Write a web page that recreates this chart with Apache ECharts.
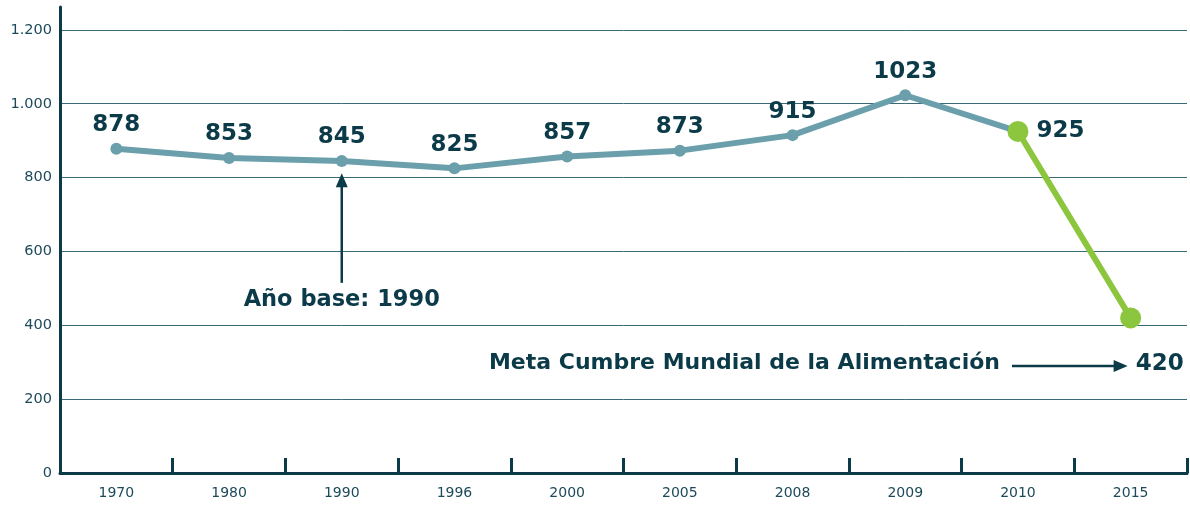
<!DOCTYPE html>
<html>
<head>
<meta charset="utf-8">
<script src="https://cdn.jsdelivr.net/npm/echarts@6/dist/echarts.min.js"></script>
<style>
  html, body { margin: 0; padding: 0; background: #fff; }
  #chart { width: 1190px; height: 505px; }
</style>
</head>
<body>
<div id="chart"></div>
<script>
const years = ["1970", "1980", "1990", "1996", "2000", "2005", "2008", "2009", "2010", "2015"];
const hambre = [878, 853, 845, 825, 857, 873, 915, 1023, 925, null];
const meta = [null, null, null, null, null, null, null, null, 925, 420];

const oscuro = "#0b3a48";
const azul = "#6a9fab";
const verde = "#8cc63f";
const fuente = "'DejaVu Sans', sans-serif";

const chart = echarts.init(document.getElementById("chart"));

chart.setOption({
  animation: false,
  grid: { left: 60, right: 3, top: 7, bottom: 32 },
  xAxis: {
    type: "category",
    data: years,
    boundaryGap: true,
    axisLine: { lineStyle: { color: oscuro, width: 3 } },
    axisTick: { show: true, interval: 0, inside: true, length: 15, lineStyle: { color: oscuro, width: 3 } },
    axisLabel: { color: "#1d4a5a", fontSize: 14, fontFamily: fuente, margin: 13 }
  },
  yAxis: {
    type: "value",
    min: 0,
    max: 1262,
    interval: 200,
    axisLine: { show: true, lineStyle: { color: oscuro, width: 3 } },
    axisTick: { show: false },
    axisLabel: {
      color: "#1d4a5a",
      fontSize: 14.5,
      fontFamily: fuente,
      margin: 8,
      showMaxLabel: false,
      formatter: v => v >= 1000 ? String(v).replace(/(\d)(\d{3})$/, "$1.$2") : String(v)
    },
    splitLine: { show: true, showMaxLine: false, lineStyle: { color: "#3a6a77", width: 1 } }
  },
  series: [
    {
      type: "line",
      data: hambre,
      lineStyle: { color: azul, width: 6 },
      itemStyle: { color: azul },
      symbol: "circle",
      symbolSize: 12,
      label: {
        show: true,
        position: "top",
        distance: 6,
        color: oscuro,
        fontSize: 23,
        fontWeight: "bold",
        fontFamily: fuente,
        formatter: p => p.dataIndex === 8 ? "" : String(p.value)
      },
      z: 2
    },
    {
      type: "line",
      data: meta,
      lineStyle: { color: verde, width: 6 },
      itemStyle: { color: verde },
      symbol: "circle",
      symbolSize: 21,
      label: {
        show: true,
        position: "right",
        distance: 8,
        color: oscuro,
        fontSize: 23,
        fontWeight: "bold",
        fontFamily: fuente,
        formatter: p => p.dataIndex === 8 ? String(p.value) : ""
      },
      z: 3
    }
  ]
});

// anotaciones colocadas con las escalas del gráfico
function px(x, y) {
  return chart.convertToPixel({ gridIndex: 0 }, [x, y]);
}
const base1 = px("1990", 515);
const base2 = px("1990", 812);
const baseTxt = px("1990", 469);
const metaA = px("2010", 290);
const metaB = px("2015", 290);

chart.setOption({
  graphic: [
    {
      type: "line",
      shape: { x1: base1[0], y1: base1[1], x2: base2[0], y2: base2[1] + 12 },
      style: { stroke: oscuro, lineWidth: 2.5 }
    },
    {
      type: "polygon",
      shape: { points: [[base2[0], base2[1]], [base2[0] - 6, base2[1] + 14], [base2[0] + 6, base2[1] + 14]] },
      style: { fill: oscuro }
    },
    {
      type: "text",
      x: baseTxt[0],
      y: baseTxt[1],
      style: {
        text: "Año base: 1990",
        fill: oscuro,
        font: "bold 22.5px " + fuente,
        align: "center",
        verticalAlign: "middle"
      }
    },
    {
      type: "text",
      x: metaA[0] - 18,
      y: metaA[1] - 3,
      style: {
        text: "Meta Cumbre Mundial de la Alimentación",
        fill: oscuro,
        font: "bold 22px " + fuente,
        align: "right",
        verticalAlign: "middle"
      }
    },
    {
      type: "line",
      shape: { x1: metaA[0] - 6, y1: metaA[1], x2: metaB[0] - 12, y2: metaB[1] },
      style: { stroke: oscuro, lineWidth: 2.5 }
    },
    {
      type: "polygon",
      shape: { points: [[metaB[0] - 3, metaB[1]], [metaB[0] - 17, metaB[1] - 6], [metaB[0] - 17, metaB[1] + 6]] },
      style: { fill: oscuro }
    },
    {
      type: "text",
      x: metaB[0] + 5,
      y: metaB[1] - 2,
      style: {
        text: "420",
        fill: oscuro,
        font: "bold 23px " + fuente,
        align: "left",
        verticalAlign: "middle"
      }
    }
  ]
});

window.addEventListener("resize", () => {
  chart.resize();
});
</script>
</body>
</html>
